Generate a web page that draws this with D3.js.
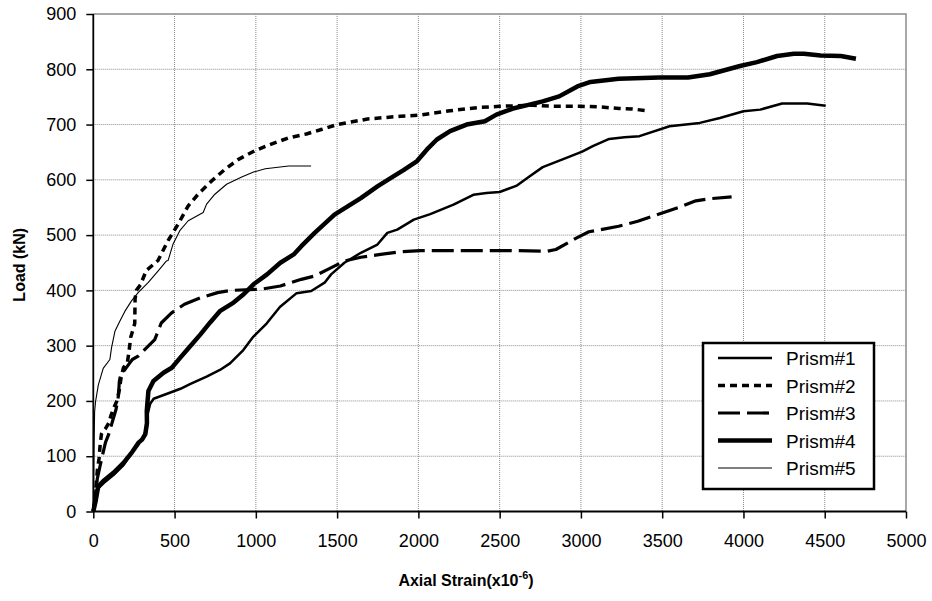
<!DOCTYPE html>
<html>
<head>
<meta charset="utf-8">
<script src="https://cdn.jsdelivr.net/npm/d3@7"></script>
<style>
  html, body { margin: 0; padding: 0; background: #fff; }
  svg { display: block; font-family: "Liberation Sans", Arial, sans-serif; }
</style>
</head>
<body>
<svg id="chart" width="932" height="601"></svg>
<script>
// ---- data (axial strain x10^-6, load kN) ----
const seriesNames = ["Prism#1", "Prism#2", "Prism#3", "Prism#4", "Prism#5"];
const xTicks = [0, 500, 1000, 1500, 2000, 2500, 3000, 3500, 4000, 4500, 5000];
const yTicks = [0, 100, 200, 300, 400, 500, 600, 700, 800, 900];

const prism1 = [[0,0],[10,15],[21,39],[62,51],[124,66],[186,84],[227,102],[268,120],[309,135],[330,153],[335,177],[350,195],[371,204],[454,213],[536,222],[598,231],[697,244],[779,256],[841,268],[923,292],[984,316],[1066,340],[1148,370],[1251,395],[1341,399],[1423,414],[1463,429],[1545,450],[1646,468],[1748,483],[1809,504],[1870,510],[1972,528],[2073,538],[2216,555],[2338,573],[2419,576],[2500,578],[2602,589],[2683,606],[2765,623],[2887,637],[3008,651],[3073,661],[3174,674],[3268,677],[3360,679],[3545,697],[3731,703],[3855,712],[4000,724],[4103,727],[4238,738],[4392,738],[4506,734]];

const prism2 = [[0,0],[8,20],[18,50],[25,75],[35,95],[42,120],[50,140],[60,145],[75,150],[95,160],[110,175],[130,190],[145,200],[160,220],[170,240],[185,260],[210,270],[220,290],[230,315],[245,330],[255,340],[257,385],[265,400],[290,410],[326,436],[398,454],[460,490],[522,520],[584,553],[645,574],[728,598],[810,619],[893,637],[996,653],[1099,665],[1202,676],[1311,683],[1402,691],[1500,700],[1687,710],[1890,715],[2002,717],[2195,725],[2378,731],[2500,733],[2704,735],[2826,733],[2988,733],[3112,732],[3236,729],[3318,728],[3411,725]];

const prism3 = [[0,0],[12,30],[25,60],[40,80],[55,100],[75,125],[95,140],[115,160],[140,185],[155,210],[160,235],[170,250],[190,255],[210,263],[240,275],[276,281],[316,293],[378,311],[418,341],[480,359],[561,375],[663,387],[765,396],[847,400],[1028,402],[1151,408],[1280,420],[1362,426],[1443,438],[1545,453],[1646,460],[1768,465],[1890,470],[2012,472],[2195,472],[2378,472],[2561,472],[2795,471],[2846,474],[2968,494],[3049,506],[3232,516],[3350,525],[3500,540],[3600,550],[3707,562],[3800,566],[3927,569]];

const prism4 = [[0,0],[15,20],[30,45],[62,55],[124,70],[186,88],[240,108],[280,125],[300,130],[320,140],[330,160],[329,182],[339,218],[370,236],[432,251],[483,260],[534,278],[596,299],[658,320],[719,342],[781,363],[863,378],[925,393],[986,411],[1069,429],[1151,450],[1233,465],[1280,480],[1362,504],[1484,537],[1565,552],[1646,567],[1748,588],[1829,603],[1911,618],[1992,634],[2053,655],[2114,673],[2195,688],[2297,700],[2409,706],[2480,718],[2582,729],[2683,736],[2765,742],[2866,751],[2978,769],[3059,777],[3232,783],[3483,785],[3659,785],[3793,791],[3979,806],[4083,813],[4207,824],[4310,828],[4372,828],[4475,825],[4599,824],[4692,819]];

const prism5 = [[0,0],[3,60],[5,120],[8,180],[14,199],[31,229],[61,259],[102,275],[112,296],[133,326],[163,344],[194,362],[235,381],[276,396],[337,414],[398,435],[449,453],[460,454],[491,484],[532,508],[584,526],[676,541],[697,556],[748,574],[820,592],[913,605],[986,614],[1058,620],[1202,625],[1340,625]];

const seriesData = [prism1, prism2, prism3, prism4, prism5];
const seriesStyle = [
  { width: 2.5, dash: null },
  { width: 3.5, dash: "7,5" },
  { width: 3.2, dash: "22,7" },
  { width: 4.5, dash: null },
  { width: 1.1, dash: null }
];

(function () {
  // ---- layout ----
  const svg = d3.select("#chart");
  const pL = 93.3, pR = 906, pT = 14, pB = 511.5;
  const x = d3.scaleLinear().domain([0, 5000]).range([pL, pR]);
  const y = d3.scaleLinear().domain([0, 900]).range([pB, pT]);

  // grid
  const grid = svg.append("g");
  grid.selectAll("line.gx").data(xTicks.filter(d => d > 0 && d < 5000)).join("line")
    .attr("x1", d => x(d)).attr("x2", d => x(d)).attr("y1", pT).attr("y2", pB)
    .attr("stroke", "#8a8a8a").attr("stroke-width", 1).attr("stroke-dasharray", "1,1");
  grid.selectAll("line.gy").data(yTicks.filter(d => d > 0 && d < 900)).join("line")
    .attr("x1", pL).attr("x2", pR).attr("y1", d => y(d)).attr("y2", d => y(d))
    .attr("stroke", "#8a8a8a").attr("stroke-width", 1).attr("stroke-dasharray", "1,1");
  // plot frame (top & right, gray)
  svg.append("path")
    .attr("d", `M${pL},${y(900)}H${x(5000)}V${pB}`)
    .attr("fill", "none").attr("stroke", "#8c8c8c").attr("stroke-width", 1.5);

  // series
  const line = d3.line().x(d => x(d[0])).y(d => y(d[1]));
  seriesData.forEach((data, i) => {
    const st = seriesStyle[i];
    svg.append("path").datum(data)
      .attr("d", line)
      .attr("fill", "none").attr("stroke", "#000")
      .attr("stroke-width", st.width)
      .attr("stroke-linejoin", "round")
      .attr("stroke-dasharray", st.dash);
  });

  // axes
  const xAxis = d3.axisBottom(x).tickValues(xTicks).tickSize(7).tickPadding(16).tickFormat(d3.format("d"));
  const yAxis = d3.axisLeft(y).tickValues(yTicks).tickSize(7).tickPadding(10).tickFormat(d3.format("d"));
  const gx = svg.append("g").attr("transform", `translate(0,${pB})`).call(xAxis);
  const gy = svg.append("g").attr("transform", `translate(${pL},0)`).call(yAxis);
  [gx, gy].forEach(g => {
    g.select(".domain").attr("stroke", "#000").attr("stroke-width", 1.8);
    g.selectAll(".tick line").attr("stroke", "#000").attr("stroke-width", 1.5);
    g.selectAll(".tick text").attr("fill", "#000").style("font-size", "18px")
      .style("font-family", "'Liberation Sans', Arial, sans-serif");
  });
  gx.select(".domain").attr("d", `M${pL},0H${pR}`);
  gy.select(".domain").attr("d", `M0,${pB}V${pT}`);

  // axis titles
  svg.append("text")
    .attr("transform", `translate(25,${(pT + pB) / 2 + 2}) rotate(-90)`)
    .attr("text-anchor", "middle")
    .style("font-size", "16px").style("font-weight", "bold")
    .text("Load (kN)");
  const xt = svg.append("text")
    .attr("x", 466).attr("y", 586)
    .attr("text-anchor", "middle")
    .style("font-size", "16px").style("font-weight", "bold");
  xt.append("tspan").text("Axial Strain(x10");
  xt.append("tspan").attr("dy", -7).style("font-size", "11px").text("-6");
  xt.append("tspan").attr("dy", 7).text(")");

  // legend
  const lg = svg.append("g");
  lg.append("rect").attr("x", 703).attr("y", 343).attr("width", 171).attr("height", 146)
    .attr("fill", "#fff").attr("stroke", "#000").attr("stroke-width", 2.5);
  seriesNames.forEach((name, i) => {
    const yy = 358 + i * 27.5;
    const st = seriesStyle[i];
    lg.append("line").attr("x1", 718).attr("x2", 772).attr("y1", yy).attr("y2", yy)
      .attr("stroke", "#000").attr("stroke-width", st.width).attr("stroke-dasharray", st.dash);
    lg.append("text").attr("x", 786).attr("y", yy + 7)
      .style("font-size", "19px").text(name);
  });
})();
</script>
</body>
</html>
